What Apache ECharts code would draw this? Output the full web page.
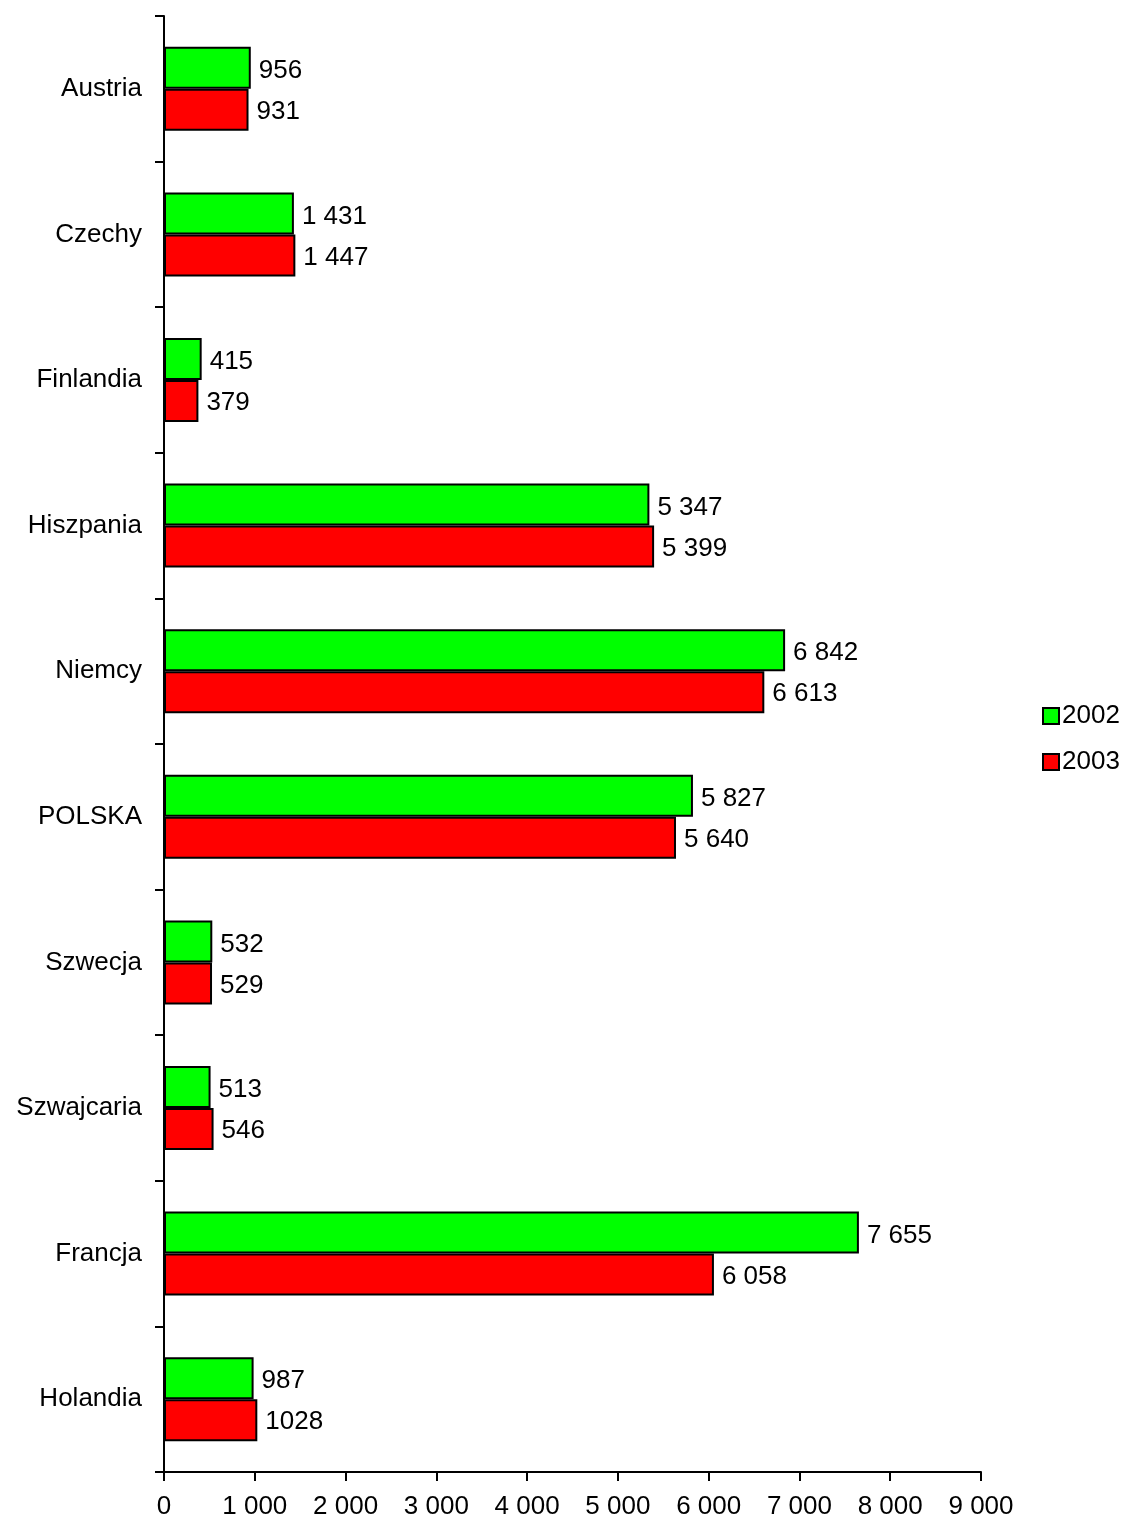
<!DOCTYPE html>
<html>
<head>
<meta charset="utf-8">
<script src="https://cdn.jsdelivr.net/npm/echarts@6/dist/echarts.min.js"></script>
<style>html,body{margin:0;padding:0;background:#fff;}#c{width:1126px;height:1524px;}</style>
</head>
<body>
<div id="c"></div>
<script>
var categories = ['Austria','Czechy','Finlandia','Hiszpania','Niemcy','POLSKA','Szwecja','Szwajcaria','Francja','Holandia'];
var values2002 = [956,1431,415,5347,6842,5827,532,513,7655,987];
var values2003 = [931,1447,379,5399,6613,5640,529,546,6058,1028];
var labels2002 = ['956','1 431','415','5 347','6 842','5 827','532','513','7 655','987'];
var labels2003 = ['931','1 447','379','5 399','6 613','5 640','529','546','6 058','1028'];
var xTicks = [0,1000,2000,3000,4000,5000,6000,7000,8000,9000];

var FONT = 'Liberation Sans, Arial, sans-serif';
var FS = 26;
function fmtThousand(v){ return String(v).replace(/\B(?=(\d{3})+(?!\d))/g,' '); }

var chart = echarts.init(document.getElementById('c'));
chart.setOption({
  animation:false,
  backgroundColor:'#fff',
  grid:{left:164,right:145,top:16,bottom:52,containLabel:false},
  legend:{
    orient:'vertical', left:1037, top:698, itemWidth:16, itemHeight:16, itemGap:20,
    icon:'rect',
    textStyle:{fontFamily:FONT,fontSize:FS,color:'#000',padding:[0,0,0,-2]},
    data:['2002','2003']
  },
  xAxis:{
    type:'value', min:xTicks[0], max:xTicks[xTicks.length-1], interval:1000,
    splitLine:{show:false},
    axisLine:{show:true,lineStyle:{color:'#000',width:2}},
    axisTick:{show:true,length:9,lineStyle:{color:'#000',width:2}},
    axisLabel:{fontFamily:FONT,fontSize:FS,color:'#000',margin:22,formatter:function(v){return fmtThousand(v);}}
  },
  yAxis:{
    type:'category', data:categories, inverse:true,
    axisLine:{show:true,lineStyle:{color:'#000',width:2}},
    axisTick:{show:true,length:9,lineStyle:{color:'#000',width:2}},
    axisLabel:{fontFamily:FONT,fontSize:FS,color:'#000',margin:22,padding:[4,0,0,0]}
  },
  series:[
    {name:'2002',type:'bar',data:values2002,barWidth:42,barGap:'0%',
     itemStyle:{color:'#00ff00',borderColor:'#000',borderWidth:2},
     label:{show:true,position:'right',distance:8,offset:[0,3],fontFamily:FONT,fontSize:FS,color:'#000',
       formatter:function(p){return labels2002[p.dataIndex];}}},
    {name:'2003',type:'bar',data:values2003,barWidth:42,barGap:'0%',
     itemStyle:{color:'#ff0000',borderColor:'#000',borderWidth:2},
     label:{show:true,position:'right',distance:8,offset:[0,2],fontFamily:FONT,fontSize:FS,color:'#000',
       formatter:function(p){return labels2003[p.dataIndex];}}}
  ]
});
</script>
</body>
</html>
